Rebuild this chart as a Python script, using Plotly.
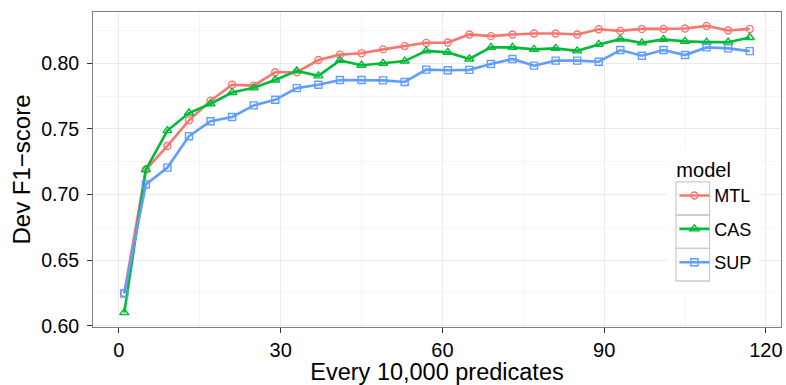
import plotly.graph_objects as go

x_vals = [1, 5, 9, 13, 17, 21, 25, 29, 33, 37, 41, 45, 49, 53, 57, 61, 65, 69, 73, 77,
          81, 85, 89, 93, 97, 101, 105, 109, 113, 117]
mtl = [0.625, 0.719, 0.737, 0.7565, 0.7714, 0.7836, 0.783, 0.7932, 0.7932, 0.8025,
       0.8066, 0.8076, 0.8106, 0.8131, 0.8156, 0.8159, 0.822, 0.8207, 0.822, 0.8227,
       0.8227, 0.822, 0.826, 0.8247, 0.8262, 0.8262, 0.8265, 0.8285, 0.825, 0.8262]
cas = [0.610, 0.719, 0.7487, 0.7621, 0.7692, 0.7777, 0.7813, 0.7873, 0.7942, 0.7904,
       0.8022, 0.7985, 0.800, 0.8017, 0.8095, 0.8083, 0.8033, 0.8121, 0.8121, 0.8106,
       0.8114, 0.8095, 0.8144, 0.8184, 0.8156, 0.8182, 0.8167, 0.8161, 0.8161, 0.8197]
sup = [0.6245, 0.7076, 0.7205, 0.7444, 0.7558, 0.7591, 0.7679, 0.7722, 0.7811, 0.7836,
       0.7873, 0.7873, 0.787, 0.7858, 0.7952, 0.7947, 0.795, 0.7995, 0.8033, 0.7982,
       0.802, 0.802, 0.8012, 0.8101, 0.8058, 0.8101, 0.8063, 0.8121, 0.8114, 0.8093]

series = [("MTL", mtl, "#F8766D", "circle-open", 7),
          ("CAS", cas, "#00BA38", "triangle-up-open", 8),
          ("SUP", sup, "#619CFF", "square-open", 7)]

x_ticks = [0, 30, 60, 90, 120]
y_ticks = [0.60, 0.65, 0.70, 0.75, 0.80]

FONT = "Liberation Sans, Arial, sans-serif"

fig = go.Figure()
for name, vals, col, sym, msize in series:
    fig.add_trace(go.Scatter(
        x=x_vals, y=vals, name=name, mode="lines+markers", legendgroup=name,
        line=dict(color=col, width=2.6),
        marker=dict(symbol=sym, size=msize, color=col, line=dict(color=col, width=1.4)),
        hoverinfo="skip",
    ))

# legend background and key boxes (paper coordinates)
shapes = [dict(type="rect", xref="paper", yref="paper", x0=0.834, x1=0.968, y0=0.115, y1=0.56,
               fillcolor="white", line=dict(width=0), layer="above")]
rows = [0.461, 0.3556, 0.2498, 0.146]
for i in range(3):
    shapes.append(dict(type="rect", xref="paper", yref="paper", x0=0.8474, x1=0.8961,
                       y0=rows[i + 1], y1=rows[i], fillcolor="rgba(0,0,0,0)",
                       line=dict(color="#CCCCCC", width=1.3), layer="above"))

fig.update_layout(
    width=786, height=385,
    margin=dict(l=93, r=5, t=12, b=58),
    paper_bgcolor="white", plot_bgcolor="white",
    font=dict(family=FONT, color="black", size=18),
    shapes=shapes,
    hovermode=False,
    legend=dict(
        title=dict(text="model", font=dict(size=20, color="black")),
        x=0.845, y=0.558, xanchor="left", yanchor="top",
        bgcolor="rgba(0,0,0,0)", font=dict(size=18, color="black"),
        itemwidth=30, tracegroupgap=7,
    ),
    showlegend=True,
)

fig.update_xaxes(
    range=[-4.8, 122.8], tickvals=x_ticks, ticktext=[str(v) for v in x_ticks],
    ticks="outside", ticklen=5, tickcolor="#333333", tickwidth=1,
    tickfont=dict(size=20, color="black"), automargin=False,
    showgrid=True, gridcolor="#EBEBEB", gridwidth=1,
    minor=dict(tickvals=[15, 45, 75, 105], showgrid=True, gridcolor="#F5F5F5", gridwidth=1),
    showline=True, linecolor="#7F7F7F", linewidth=1, mirror=True, zeroline=False,
    title=dict(text="Every 10,000 predicates", font=dict(size=23.5, color="black"), standoff=4),
)
fig.update_yaxes(
    range=[0.599, 0.8391], tickvals=y_ticks, ticktext=["%.2f" % v for v in y_ticks],
    ticks="outside", ticklen=5, tickcolor="#333333", tickwidth=1,
    tickfont=dict(size=19.5, color="black"), automargin=False, ticklabelstandoff=4,
    showgrid=True, gridcolor="#EBEBEB", gridwidth=1,
    minor=dict(tickvals=[0.625, 0.675, 0.725, 0.775, 0.825], showgrid=True, gridcolor="#F5F5F5", gridwidth=1),
    showline=True, linecolor="#7F7F7F", linewidth=1, mirror=True, zeroline=False,
    title=dict(text="Dev F1\u2212score", font=dict(size=24, color="black"), standoff=3),
)

fig.write_html("out.html", config={"displayModeBar": False},
               post_script="document.body.style.margin='0';")
